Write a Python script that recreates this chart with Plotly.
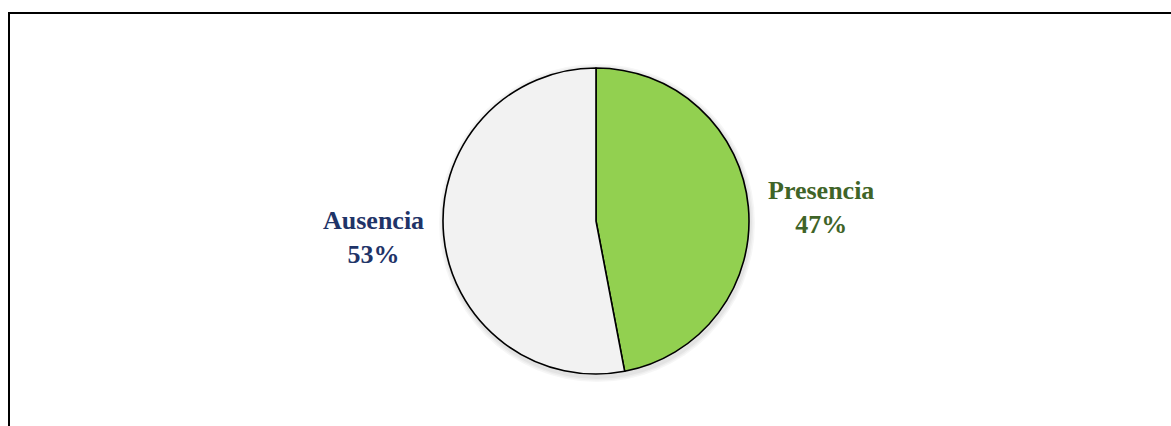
import plotly.graph_objects as go

# Pie data
categories = ["Presencia", "Ausencia"]
values = [47, 53]
slice_colors = ["#92D050", "#F2F2F2"]
label_colors = ["#3F6428", "#1F3468"]

W, H = 1171, 426
# pie placement in pixels
cx, cy, r = 596, 221, 153

def px(x):
    return x / W

def py(y):
    return 1 - y / H

fig = go.Figure()
fig.add_trace(go.Pie(
    labels=categories,
    values=values,
    sort=False,
    direction="clockwise",
    rotation=0,
    marker=dict(colors=slice_colors, line=dict(color="black", width=1.6)),
    textinfo="none",
    hoverinfo="label+percent",
    showlegend=False,
    domain=dict(x=[px(cx - r), px(cx + r)], y=[py(cy + r), py(cy - r)]),
))

total = sum(values)
label_pos = [(821, 207), (373, 238)]
annotations = []
for name, v, col, (lx, ly) in zip(categories, values, label_colors, label_pos):
    annotations.append(dict(
        x=px(lx), y=py(ly), xref="paper", yref="paper",
        text=f"<b>{name}<br>{round(100 * v / total)}%</b>",
        showarrow=False, align="center", xanchor="center", yanchor="middle",
        font=dict(family="Liberation Serif", size=26, color=col),
    ))

shapes = []
# soft shadow around the pie
for i, a in enumerate([0.035, 0.035, 0.04]):
    d = 5 - i * 1.5
    shapes.append(dict(
        type="circle", xref="paper", yref="paper", layer="below",
        x0=px(cx - r - d + 1), x1=px(cx + r + d + 1),
        y0=py(cy + r + d + 3), y1=py(cy - r - d + 1),
        line=dict(width=0), fillcolor=f"rgba(0,0,0,{a})",
    ))
# chart frame
shapes.append(dict(
    type="rect", xref="paper", yref="paper",
    x0=px(9), x1=px(W + 20), y0=py(H + 20), y1=py(13),
    line=dict(color="black", width=2),
))

fig.update_layout(
    width=W, height=H,
    margin=dict(l=0, r=0, t=0, b=0),
    paper_bgcolor="white",
    plot_bgcolor="white",
    annotations=annotations,
    shapes=shapes,
)

fig.write_html("out.html")
